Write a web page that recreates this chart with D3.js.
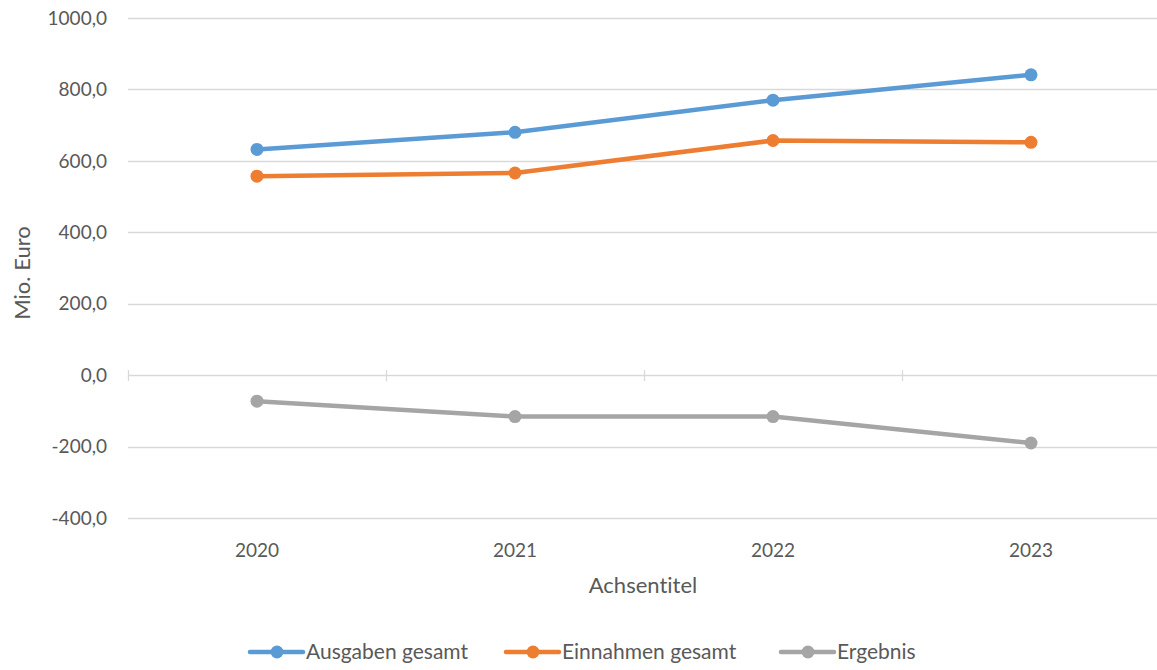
<!DOCTYPE html>
<html>
<head>
<meta charset="utf-8">
<script src="https://cdn.jsdelivr.net/npm/d3@7"></script>
<style>
  body { margin: 0; background: #fff; }
  text { font-family: "Lato", "Open Sans", sans-serif; fill: #595959; font-variant-ligatures: none; }
</style>
</head>
<body>
<div id="chart"></div>
<script>
var years = ["2020", "2021", "2022", "2023"];
var ausgaben = [632, 680, 770, 841];
var einnahmen = [557, 566, 657, 652];
var ergebnis = [-73, -116, -116, -190];
var seriesNames = ["Ausgaben gesamt", "Einnahmen gesamt", "Ergebnis"];
var yTicks = [-400, -200, 0, 200, 400, 600, 800, 1000];

var svgWidth = 1157;
var svgHeight = 670;
var margin = { top: 18, right: -3, bottom: 152, left: 128 };
var width = svgWidth - margin.left - margin.right;
var height = svgHeight - margin.top - margin.bottom;

var colors = ["#5B9BD5", "#ED7D31", "#A5A5A5"];
var seriesData = [ausgaben, einnahmen, ergebnis];

var svg = d3.select("#chart").append("svg")
  .attr("width", svgWidth)
  .attr("height", svgHeight);

var chartGroup = svg.append("g")
  .attr("transform", `translate(${margin.left}, ${margin.top})`);

var xScale = d3.scaleBand().domain(years).range([0, width]);
var yScale = d3.scaleLinear().domain([-400, 1000]).range([height, 0]);

// german number format, plain hyphen as minus
var de = d3.formatLocale({ decimal: ",", thousands: ".", grouping: [3], currency: ["", " €"], minus: "-" });
var fmt = de.format(".1f");

// gridlines
chartGroup.selectAll(".grid")
  .data(yTicks)
  .enter()
  .append("line")
  .attr("x1", 0)
  .attr("x2", width)
  .attr("y1", d => Math.round(yScale(d)) + 0.5)
  .attr("y2", d => Math.round(yScale(d)) + 0.5)
  .attr("stroke", "#D9D9D9")
  .attr("stroke-width", 1.3);

// y labels
chartGroup.selectAll(".ylab")
  .data(yTicks)
  .enter()
  .append("text")
  .attr("x", -21)
  .attr("y", d => yScale(d))
  .attr("dy", "0.35em")
  .attr("text-anchor", "end")
  .attr("font-size", 19)
  .text(d => fmt(d));

// category ticks on zero line
var bounds = years.map(d => xScale(d)).concat([width]);
chartGroup.selectAll(".xtick")
  .data(bounds)
  .enter()
  .append("line")
  .attr("x1", d => Math.round(d) + 0.5)
  .attr("x2", d => Math.round(d) + 0.5)
  .attr("y1", yScale(0) - 5)
  .attr("y2", yScale(0) + 6)
  .attr("stroke", "#D9D9D9")
  .attr("stroke-width", 1.3);

// x labels
chartGroup.selectAll(".xlab")
  .data(years)
  .enter()
  .append("text")
  .attr("x", d => xScale(d) + xScale.bandwidth() / 2)
  .attr("y", height + 39)
  .attr("text-anchor", "middle")
  .attr("font-size", 19)
  .text(d => d);

// lines
var line = d3.line()
  .x((d, i) => xScale(years[i]) + xScale.bandwidth() / 2)
  .y(d => yScale(d));

seriesData.forEach(function(vals, s) {
  chartGroup.append("path")
    .datum(vals)
    .attr("d", line)
    .attr("fill", "none")
    .attr("stroke", colors[s])
    .attr("stroke-width", 4.5)
    .attr("stroke-linejoin", "round")
    .attr("stroke-linecap", "round");

  chartGroup.selectAll(".dot" + s)
    .data(vals)
    .enter()
    .append("circle")
    .attr("cx", (d, i) => xScale(years[i]) + xScale.bandwidth() / 2)
    .attr("cy", d => yScale(d))
    .attr("r", 6.5)
    .attr("fill", colors[s]);
});

// axis titles
svg.append("text")
  .attr("transform", "translate(30, 273) rotate(-90)")
  .attr("text-anchor", "middle")
  .attr("font-size", 22)
  .text("Mio. Euro");

svg.append("text")
  .attr("x", 643)
  .attr("y", 593)
  .attr("text-anchor", "middle")
  .attr("font-size", 22)
  .text("Achsentitel");

// legend
var legendX = [250, 506, 781];
var legend = svg.selectAll(".legend")
  .data(seriesNames)
  .enter()
  .append("g")
  .attr("transform", (d, i) => `translate(${legendX[i]}, 652)`);

legend.append("line")
  .attr("x1", 0).attr("x2", 53)
  .attr("y1", 0).attr("y2", 0)
  .attr("stroke", (d, i) => colors[i])
  .attr("stroke-width", 4.5)
  .attr("stroke-linecap", "round");

legend.append("circle")
  .attr("cx", 27).attr("cy", 0).attr("r", 6.5)
  .attr("fill", (d, i) => colors[i]);

legend.append("text")
  .attr("x", 56)
  .attr("y", 0)
  .attr("dy", "0.35em")
  .attr("font-size", 21)
  .text(d => d);
</script>
</body>
</html>
